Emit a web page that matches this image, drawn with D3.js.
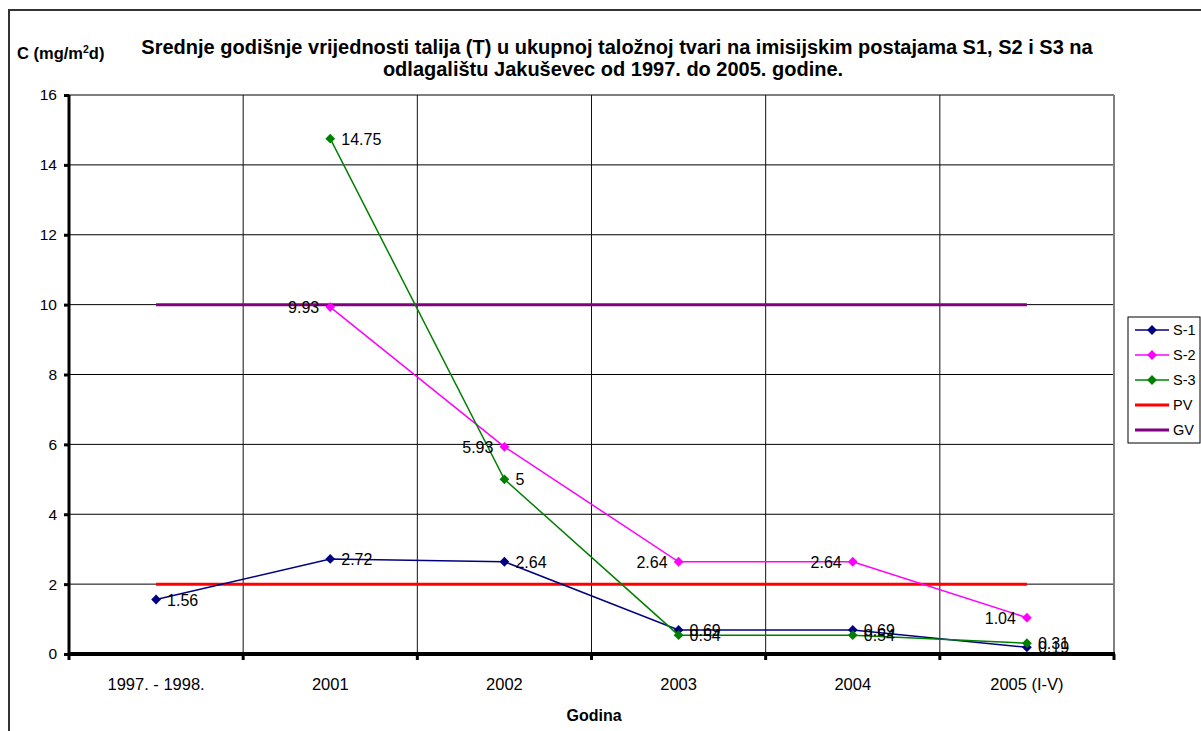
<!DOCTYPE html>
<html>
<head>
<meta charset="utf-8">
<script src="https://cdn.jsdelivr.net/npm/d3@7"></script>
<style>
  body { margin: 0; background: #fff; }
  svg { display: block; font-family: "Liberation Sans", Arial, sans-serif; }
</style>
</head>
<body>
<svg id="chart" width="1201" height="731"></svg>
<script>
// Period labels on the x axis
const categories = ["1997. - 1998.", "2001", "2002", "2003", "2004", "2005 (I-V)"];
// Mean yearly thallium deposition per station (mg/m²d); null = no measurement
const s1 = [1.56, 2.72, 2.64, 0.69, 0.69, 0.19];
const s2 = [null, 9.93, 5.93, 2.64, 2.64, 1.04];
const s3 = [null, 14.75, 5, 0.54, 0.54, 0.31];
// Reference limits
const pv = [2, 2, 2, 2, 2, 2];
const gv = [10, 10, 10, 10, 10, 10];
const yTicks = [0, 2, 4, 6, 8, 10, 12, 14, 16];

const svg = d3.select("#chart");
const plotL = 69, plotR = 1114, plotT = 95, plotB = 654;

const x = d3.scaleBand().domain(categories).range([plotL, plotR]).padding(0);
const y = d3.scaleLinear().domain([0, 16]).range([plotB, plotT]);
const cx = c => x(c) + x.bandwidth() / 2;

// outer chart frame
svg.append("rect").attr("x", 9).attr("y", 10).attr("width", 1210).attr("height", 740)
  .attr("fill", "none").attr("stroke", "#333").attr("stroke-width", 2);

// horizontal gridlines
svg.append("g").selectAll("line").data(yTicks.filter(t => t > 0)).join("line")
  .attr("x1", plotL).attr("x2", plotR)
  .attr("y1", d => y(d)).attr("y2", d => y(d))
  .attr("stroke", "#000").attr("stroke-width", 1);

// vertical gridlines at category boundaries
const bounds = categories.map(c => x(c) + x.bandwidth());
svg.append("g").selectAll("line").data(bounds).join("line")
  .attr("x1", d => d).attr("x2", d => d)
  .attr("y1", plotT).attr("y2", plotB)
  .attr("stroke", (d, i) => i === bounds.length - 1 ? "#808080" : "#111")
  .attr("stroke-width", (d, i) => i === bounds.length - 1 ? 2 : 1);

// y axis
const yAxis = svg.append("g").attr("transform", `translate(${plotL},0)`)
  .call(d3.axisLeft(y).tickValues(yTicks).tickFormat(d3.format("d")).tickSize(5).tickPadding(7));
yAxis.select(".domain").attr("stroke", "#000").attr("stroke-width", 3)
  .attr("d", `M0,${plotT}V${plotB}`);
yAxis.selectAll(".tick line").attr("stroke-width", 3);
yAxis.selectAll(".tick text").attr("font-size", 15.5).attr("fill", "#000")
  .attr("font-family", "Liberation Sans, Arial, sans-serif");

// x axis: ticks at category boundaries, labels at centers
const xg = svg.append("g");
xg.append("line").attr("x1", plotL - 1).attr("x2", plotR + 1)
  .attr("y1", plotB).attr("y2", plotB).attr("stroke", "#000").attr("stroke-width", 4);
xg.selectAll("line.tk").data([plotL].concat(bounds)).join("line").attr("class", "tk")
  .attr("x1", d => d).attr("x2", d => d).attr("y1", plotB).attr("y2", plotB + 6)
  .attr("stroke", "#000").attr("stroke-width", 3);
xg.selectAll("text").data(categories).join("text")
  .attr("x", d => cx(d)).attr("y", 690).attr("text-anchor", "middle")
  .attr("font-size", 16.5).text(d => d);

// reference lines
const line = d3.line().defined(d => d.v !== null).x(d => cx(d.c)).y(d => y(d.v));
const toPts = arr => arr.map((v, i) => ({ c: categories[i], v }));

svg.append("path").attr("d", line(toPts(pv))).attr("fill", "none")
  .attr("stroke", "#ff0000").attr("stroke-width", 3);
svg.append("path").attr("d", line(toPts(gv))).attr("fill", "none")
  .attr("stroke", "#800080").attr("stroke-width", 3);

const series = [
  { name: "S-1", data: s1, color: "#000080", side: "right" },
  { name: "S-2", data: s2, color: "#ff00ff", side: "left" },
  { name: "S-3", data: s3, color: "#008000", side: "right" }
];
// square marker turned 45° gives the diamond
const diamond = d3.symbol().type(d3.symbolSquare).size(48);
const fmt = v => String(v);

series.forEach(s => {
  const pts = toPts(s.data);
  svg.append("path").attr("d", line(pts)).attr("fill", "none")
    .attr("stroke", s.color).attr("stroke-width", 1.5);
  const valid = pts.filter(d => d.v !== null);
  svg.append("g").selectAll("path").data(valid).join("path")
    .attr("d", diamond).attr("fill", s.color)
    .attr("transform", d => `translate(${cx(d.c)},${y(d.v)}) rotate(45)`);
});
// value labels drawn on top of all lines
series.forEach(s => {
  const valid = toPts(s.data).filter(d => d.v !== null);
  svg.append("g").selectAll("text").data(valid).join("text")
    .attr("x", d => cx(d.c) + (s.side === "right" ? 11 : -11))
    .attr("y", d => y(d.v)).attr("dy", "0.38em")
    .attr("text-anchor", s.side === "right" ? "start" : "end")
    .attr("font-size", 16).attr("fill", "#000").text(d => fmt(d.v));
});

// titles
const title = svg.append("text").attr("text-anchor", "middle")
  .attr("font-size", 20).attr("font-weight", "bold");
title.append("tspan").attr("x", 617).attr("y", 54)
  .text("Srednje godišnje vrijednosti talija (T) u ukupnoj taložnoj tvari na imisijskim postajama S1, S2 i S3 na");
title.append("tspan").attr("x", 613).attr("y", 76)
  .text("odlagalištu Jakuševec od 1997. do 2005. godine.");

const yl = svg.append("text").attr("x", 17).attr("y", 59)
  .attr("font-size", 16.5).attr("font-weight", "bold");
yl.append("tspan").text("C (mg/m");
yl.append("tspan").attr("font-size", 10.5).attr("dy", -6).text("2");
yl.append("tspan").attr("dy", 6).text("d)");

svg.append("text").attr("x", 594).attr("y", 721).attr("text-anchor", "middle")
  .attr("font-size", 16).attr("font-weight", "bold").text("Godina");

// legend
const legendItems = [
  { name: "S-1", color: "#000080", marker: true },
  { name: "S-2", color: "#ff00ff", marker: true },
  { name: "S-3", color: "#008000", marker: true },
  { name: "PV", color: "#ff0000", marker: false },
  { name: "GV", color: "#800080", marker: false }
];
const lg = svg.append("g").attr("transform", "translate(1128,317)");
lg.append("rect").attr("x", 0).attr("y", 0).attr("width", 72).attr("height", 126)
  .attr("fill", "#fff").attr("stroke", "#000").attr("stroke-width", 1);
const li = lg.selectAll("g").data(legendItems).join("g")
  .attr("transform", (d, i) => `translate(0,${13 + i * 25})`);
li.append("line").attr("x1", 7).attr("x2", 41).attr("y1", 0).attr("y2", 0)
  .attr("stroke", d => d.color).attr("stroke-width", d => d.marker ? 1.5 : 3);
li.filter(d => d.marker).append("path").attr("d", diamond)
  .attr("fill", d => d.color).attr("transform", "translate(24,0) rotate(45)");
li.append("text").attr("x", 45).attr("y", 0).attr("dy", "0.36em")
  .attr("font-size", 14.5).text(d => d.name);
</script>
</body>
</html>
